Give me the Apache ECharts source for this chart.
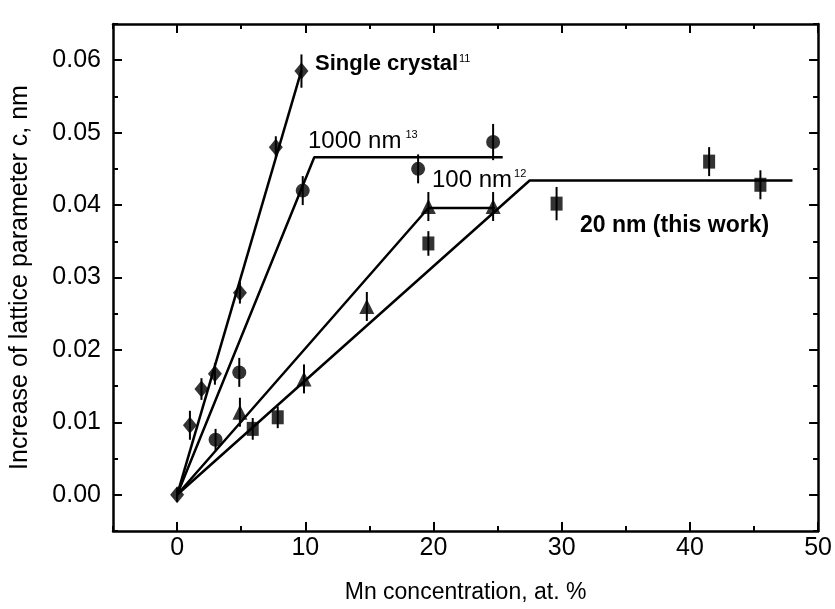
<!DOCTYPE html>
<html>
<head>
<meta charset="utf-8">
<script src="https://cdn.jsdelivr.net/npm/echarts@6/dist/echarts.min.js"></script>
<style>
html, body { margin: 0; padding: 0; background: #fff; }
#chart { width: 835px; height: 609px; }
</style>
</head>
<body>
<div id="chart"></div>
<script>
// 数据点
const singleX = [0, 1, 1.9, 2.95, 4.9, 7.7, 9.7];
const singleY = [0, 0.0096, 0.0146, 0.0167, 0.0279, 0.048, 0.0585];
const singleErr = [0.001, 0.002, 0.0015, 0.0015, 0.0015, 0.0015, 0.0023];

const nm1000X = [3, 4.85, 9.8, 18.8, 24.65];
const nm1000Y = [0.0076, 0.0169, 0.042, 0.045, 0.0487];
const nm1000Err = [0.0015, 0.002, 0.002, 0.002, 0.0025];

const nm100X = [4.9, 9.9, 14.8, 19.6, 24.65];
const nm100Y = [0.0114, 0.016, 0.026, 0.0398, 0.0398];
const nm100Err = [0.002, 0.002, 0.002, 0.002, 0.002];

const nm20X = [5.9, 7.85, 19.6, 29.6, 41.5, 45.5];
const nm20Y = [0.0091, 0.0107, 0.0347, 0.0402, 0.046, 0.0428];
const nm20Err = [0.0015, 0.0015, 0.0017, 0.0023, 0.002, 0.002];

// 拟合直线
const fitSingle = [[0, 0], [9.7, 0.0586]];
const fit1000 = [[0, 0], [10.7, 0.0466], [25.4, 0.0466]];
const fit100 = [[0, 0], [19.6, 0.0396], [24.8, 0.0396]];
const fit20 = [[0, 0], [27.5, 0.0434], [48, 0.0434]];

// 刻度
const xMajor = [0, 10, 20, 30, 40, 50];
const yMajor = [0, 0.01, 0.02, 0.03, 0.04, 0.05, 0.06];

const FONT = '"Liberation Sans", Arial, sans-serif';

function pairs(xs, ys) {
    return xs.map((x, i) => [x, ys[i]]);
}

// 误差棒
function errorBars(xs, ys, errs) {
    return {
        type: 'custom',
        silent: true,
        z: 3,
        renderItem: function (params, api) {
            const x = api.value(0), y = api.value(1), e = api.value(2);
            const p1 = api.coord([x, y + e]);
            const p2 = api.coord([x, y - e]);
            return {
                type: 'line',
                shape: { x1: p1[0], y1: p1[1], x2: p2[0], y2: p2[1] },
                style: { stroke: '#000', lineWidth: 2 }
            };
        },
        data: xs.map((x, i) => [x, ys[i], errs[i]])
    };
}

function fitLine(data) {
    return {
        type: 'line',
        data: data,
        symbol: 'none',
        silent: true,
        z: 2,
        lineStyle: { color: '#000', width: 2.5 }
    };
}

function points(xs, ys, symbol, size) {
    return {
        type: 'scatter',
        data: pairs(xs, ys),
        symbol: symbol,
        symbolSize: size,
        z: 4,
        itemStyle: { color: '#000' }
    };
}

const chart = echarts.init(document.getElementById('chart'));

const boxLine = { show: true, onZero: false, lineStyle: { color: '#000', width: 2.5 } };
const minorTick = { show: true, inside: true, length: 5, lineStyle: { color: '#000', width: 2 } };
const noLabel = { show: false };
const noSplit = { show: false };

// 长刻度 (主刻度) 用叠加的轴来画
function majorAxis(position, values, min, max) {
    return {
        type: 'value', min: min, max: max, position: position,
        axisLine: { show: false, onZero: false },
        axisTick: { show: true, inside: true, length: 9, customValues: values, lineStyle: { color: '#000', width: 2 } },
        axisLabel: noLabel, splitLine: noSplit
    };
}

const option = {
    animation: false,
    grid: { left: 112, right: 14, top: 24, bottom: 74 },
    xAxis: [
        {
            type: 'value', min: -5, max: 50, interval: 5, position: 'bottom',
            axisLine: boxLine, axisTick: minorTick, splitLine: noSplit,
            axisLabel: {
                margin: 5, color: '#000', fontSize: 25, fontFamily: FONT,
                formatter: v => (v >= 0 && v % 10 === 0) ? String(v) : ''
            },
            name: 'Mn concentration, at. %', nameLocation: 'middle', nameGap: 50,
            nameTextStyle: { color: '#000', fontSize: 23, fontFamily: FONT }
        },
        {
            type: 'value', min: -5, max: 50, interval: 5, position: 'top',
            axisLine: boxLine, axisTick: minorTick, axisLabel: noLabel, splitLine: noSplit
        },
        majorAxis('bottom', xMajor, -5, 50),
        majorAxis('top', xMajor, -5, 50)
    ],
    yAxis: [
        {
            type: 'value', min: -0.005, max: 0.065, interval: 0.005, position: 'left',
            axisLine: boxLine, axisTick: minorTick, splitLine: noSplit,
            axisLabel: {
                margin: 12, color: '#000', fontSize: 25, fontFamily: FONT,
                formatter: function (v) {
                    const k = Math.round(v * 1000);
                    return (k >= 0 && k % 10 === 0) ? (k / 1000).toFixed(2) : '';
                }
            },
            name: 'Increase of lattice parameter c, nm', nameLocation: 'middle', nameGap: 80,
            nameTextStyle: { color: '#000', fontSize: 25, fontFamily: FONT }
        },
        {
            type: 'value', min: -0.005, max: 0.065, interval: 0.005, position: 'right',
            axisLine: boxLine, axisTick: minorTick, axisLabel: noLabel, splitLine: noSplit
        },
        majorAxis('left', yMajor, -0.005, 0.065),
        majorAxis('right', yMajor, -0.005, 0.065)
    ],
    series: [
        fitLine(fitSingle),
        fitLine(fit1000),
        fitLine(fit100),
        fitLine(fit20),
        errorBars(singleX, singleY, singleErr),
        errorBars(nm1000X, nm1000Y, nm1000Err),
        errorBars(nm100X, nm100Y, nm100Err),
        errorBars(nm20X, nm20Y, nm20Err),
        points(singleX, singleY, 'diamond', [14, 17]),
        points(nm1000X, nm1000Y, 'circle', 14),
        points(nm100X, nm100Y, 'triangle', 15),
        points(nm20X, nm20Y, 'rect', [12, 14])
    ],
    graphic: [
        {
            type: 'text', left: 315, top: 53,
            style: {
                text: '{m|Single crystal}{s|11}', fill: '#000',
                rich: {
                    m: { fontSize: 22, fontWeight: 'bold', fontFamily: FONT },
                    s: { fontSize: 11, fontFamily: FONT, verticalAlign: 'top', padding: [0, 0, 0, 1] }
                }
            }
        },
        {
            type: 'text', left: 308, top: 129,
            style: {
                text: '{m|1000 nm}{s|13}', fill: '#000',
                rich: {
                    m: { fontSize: 24, fontFamily: FONT },
                    s: { fontSize: 11, fontFamily: FONT, verticalAlign: 'top', padding: [0, 0, 0, 4] }
                }
            }
        },
        {
            type: 'text', left: 432, top: 168,
            style: {
                text: '{m|100 nm}{s|12}', fill: '#000',
                rich: {
                    m: { fontSize: 24, fontFamily: FONT },
                    s: { fontSize: 11, fontFamily: FONT, verticalAlign: 'top', padding: [0, 0, 0, 2] }
                }
            }
        },
        {
            type: 'text', left: 580, top: 214,
            style: { text: '20 nm (this work)', fill: '#000', font: 'bold 23px ' + FONT }
        }
    ]
};

chart.setOption(option);
</script>
</body>
</html>
